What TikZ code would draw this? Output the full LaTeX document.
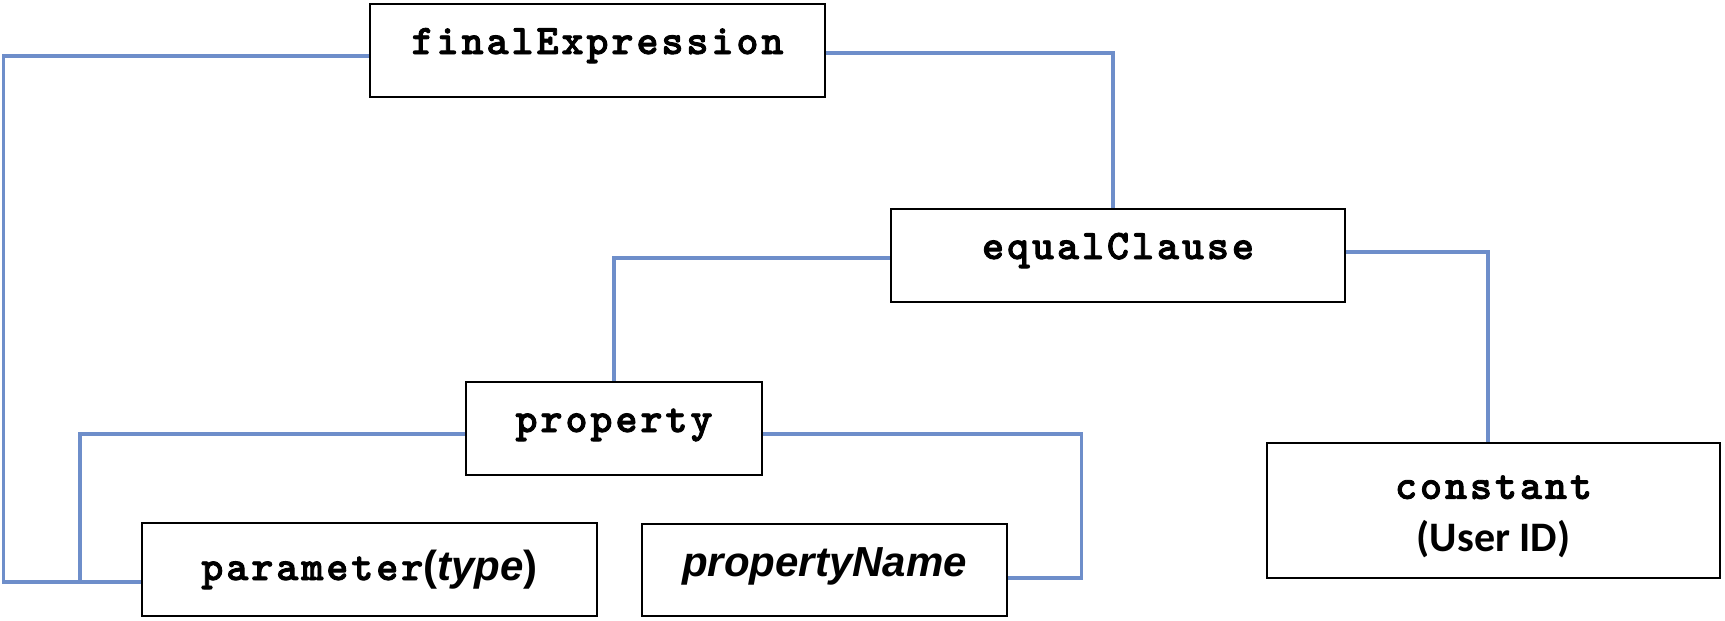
\documentclass[tikz,border=0pt]{standalone}
\usepackage{fontspec}
\newfontfamily\courfont{lmmonolt10-bold.otf}[LetterSpace=7, FakeBold=2]
\newfontfamily\arialfont{Liberation Sans}
\newfontfamily\calfont{Carlito}
\definecolor{connblue}{RGB}{110,142,202}
\tikzset{
  treebox/.style={draw=black, line width=2.8pt, fill=white, inner sep=0pt,
    minimum height=93pt, text height=27pt, text depth=20pt,
    font=\fontsize{42pt}{53pt}\selectfont\courfont},
  conn/.style={draw=connblue, line width=3.2pt}
}
\begin{document}
\begin{tikzpicture}[x=1pt,y=-1pt]
\useasboundingbox[fill=white] (0,0) rectangle (1725,621);
\coordinate (jn) at (80,582);
\node[treebox, minimum width=455pt] (fE) at (597.5,50.5) {finalExpression};
\node[treebox, minimum width=454pt] (eqC) at (1118,255.5) {equalClause};
\node[treebox, minimum width=296pt] (prop) at (614,428.5) {property};
\node[treebox, minimum width=455pt, text height=33pt, text depth=12pt] (par) at (369.5,569.5) {parameter{\arialfont\bfseries(\textit{type})}};
\node[treebox, minimum width=365pt, minimum height=92pt, text height=30pt, text depth=18pt] (pN) at (824.5,570) {\arialfont\bfseries\itshape propertyName};
\node[treebox, minimum width=453pt, minimum height=135pt, text height=, text depth=, align=center] (const) at (1493.5,510.5)
  {\rule{0pt}{36pt}constant\\{\calfont\bfseries (User ID)}};
\draw[conn] ([yshift=-5.5pt]fE.west) -- ++(-365,0) |- ([yshift=-12.5pt]par.west);
\draw[conn] ([yshift=-5.5pt]prop.west) -| (jn);
\draw[conn] ([yshift=-2.5pt]fE.east) -| ([xshift=-5pt]eqC.north);
\draw[conn] ([yshift=-2.5pt]eqC.west) -| (prop.north);
\draw[conn] ([yshift=3.5pt]eqC.east) -| ([xshift=-5.5pt]const.north);
\draw[conn] ([yshift=-5.5pt]prop.east) -- ++(318,0) |- ([yshift=-8pt]pN.east);
\end{tikzpicture}
\end{document}
